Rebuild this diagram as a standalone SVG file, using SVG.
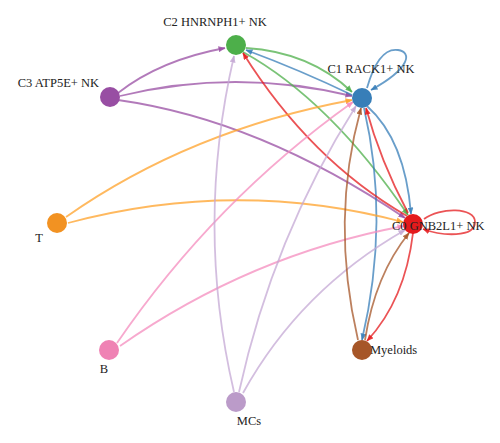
<svg xmlns="http://www.w3.org/2000/svg" width="500" height="443" viewBox="0 0 500 443">
<style>
.e{fill:none;stroke-width:1.8;stroke-opacity:0.75}
.lbl{font-family:"Liberation Serif","Times New Roman",serif;font-size:12.5px;fill:#222}
.n{stroke:none}
</style>
<defs>
<marker id="aR" markerUnits="userSpaceOnUse" markerWidth="7" markerHeight="6" refX="6.5" refY="3" orient="auto"><path d="M0,0 L7,3 L0,6 z" fill="#e41a1c" fill-opacity="0.85"/></marker>
<marker id="aB" markerUnits="userSpaceOnUse" markerWidth="7" markerHeight="6" refX="6.5" refY="3" orient="auto"><path d="M0,0 L7,3 L0,6 z" fill="#377eb8" fill-opacity="0.85"/></marker>
<marker id="aG" markerUnits="userSpaceOnUse" markerWidth="7" markerHeight="6" refX="6.5" refY="3" orient="auto"><path d="M0,0 L7,3 L0,6 z" fill="#4daf4a" fill-opacity="0.85"/></marker>
<marker id="aP" markerUnits="userSpaceOnUse" markerWidth="7" markerHeight="6" refX="6.5" refY="3" orient="auto"><path d="M0,0 L7,3 L0,6 z" fill="#984ea3" fill-opacity="0.85"/></marker>
<marker id="aO" markerUnits="userSpaceOnUse" markerWidth="7" markerHeight="6" refX="6.5" refY="3" orient="auto"><path d="M0,0 L7,3 L0,6 z" fill="#ffa12a" fill-opacity="0.85"/></marker>
<marker id="aK" markerUnits="userSpaceOnUse" markerWidth="7" markerHeight="6" refX="6.5" refY="3" orient="auto"><path d="M0,0 L7,3 L0,6 z" fill="#f48cbd" fill-opacity="0.85"/></marker>
<marker id="aL" markerUnits="userSpaceOnUse" markerWidth="7" markerHeight="6" refX="6.5" refY="3" orient="auto"><path d="M0,0 L7,3 L0,6 z" fill="#c4a8d4" fill-opacity="0.85"/></marker>
<marker id="aM" markerUnits="userSpaceOnUse" markerWidth="7" markerHeight="6" refX="6.5" refY="3" orient="auto"><path d="M0,0 L7,3 L0,6 z" fill="#a65628" fill-opacity="0.85"/></marker>
</defs>
<g id="connectors">
<!-- C3 -->
<path class="e" stroke="#984ea3" marker-end="url(#aP)" d="M118,93 Q160,60 225,48"/>
<path class="e" stroke="#984ea3" marker-end="url(#aP)" d="M120,96 Q235,68 352,96"/>
<path class="e" stroke="#984ea3" marker-end="url(#aP)" d="M118,100 Q260,120 405,218"/>
<!-- C2 -->
<path class="e" stroke="#4daf4a" marker-end="url(#aG)" d="M246,48 Q310,52 352,92"/>
<path class="e" stroke="#4daf4a" marker-end="url(#aG)" d="M243,52 Q330,100 408,215"/>
<!-- C1 -->
<path class="e" stroke="#377eb8" marker-end="url(#aB)" d="M352,95 Q300,70 246,50"/>
<path class="e" stroke="#377eb8" marker-end="url(#aB)" d="M367,88 C375,60 385,48 398,50 C412,52 411,68 371,90"/>
<path class="e" stroke="#377eb8" marker-end="url(#aB)" d="M367,106 Q405,140 411,214"/>
<path class="e" stroke="#377eb8" marker-end="url(#aB)" d="M364,108 Q390,220 362,340"/>
<!-- C0 -->
<path class="e" stroke="#e41a1c" marker-end="url(#aR)" d="M407,216 Q310,160 243,53"/>
<path class="e" stroke="#e41a1c" marker-end="url(#aR)" d="M408,213 Q380,160 366,108"/>
<path class="e" stroke="#e41a1c" marker-end="url(#aR)" d="M424,219 C440,207 475,207 475,222 C475,238 442,236 423,229"/>
<path class="e" stroke="#e41a1c" marker-end="url(#aR)" d="M413,233 Q405,300 367,341"/>
<!-- T -->
<path class="e" stroke="#ffa12a" marker-end="url(#aO)" d="M66,217 Q190,130 352,100"/>
<path class="e" stroke="#ffa12a" marker-end="url(#aO)" d="M68,223 Q236,178 403,222"/>
<!-- B -->
<path class="e" stroke="#f48cbd" marker-end="url(#aK)" d="M117,343 Q215,200 353,102"/>
<path class="e" stroke="#f48cbd" marker-end="url(#aK)" d="M120,346 Q250,255 404,226"/>
<!-- MCs -->
<path class="e" stroke="#c4a8d4" marker-end="url(#aL)" d="M234,392 Q195,225 234,56"/>
<path class="e" stroke="#c4a8d4" marker-end="url(#aL)" d="M239,392 Q273,237 356,106"/>
<path class="e" stroke="#c4a8d4" marker-end="url(#aL)" d="M243,393 Q300,290 405,230"/>
<!-- Myeloids -->
<path class="e" stroke="#a65628" marker-end="url(#aM)" d="M358,340 Q330,220 361,108"/>
<path class="e" stroke="#a65628" marker-end="url(#aM)" d="M365,340 Q375,275 409,233"/>
</g>
<g id="node-C2"><circle class="n" cx="236" cy="45" r="10" fill="#4daf4a"/><text class="lbl" x="215" y="26" text-anchor="middle">C2 HNRNPH1+ NK</text></g>
<g id="node-C1"><circle class="n" cx="362" cy="98" r="10" fill="#377eb8"/><text class="lbl" x="371" y="73" text-anchor="middle">C1 RACK1+ NK</text></g>
<g id="node-C3"><circle class="n" cx="110" cy="97" r="10" fill="#984ea3"/><text class="lbl" x="99" y="87" text-anchor="end">C3 ATP5E+ NK</text></g>
<g id="node-T"><circle class="n" cx="57" cy="223" r="10" fill="#f29222"/><text class="lbl" x="39" y="242" text-anchor="middle">T</text></g>
<g id="node-C0"><circle class="n" cx="413" cy="224" r="10" fill="#e41a1c"/><text class="lbl" x="392" y="230">C0 GNB2L1+ NK</text></g>
<g id="node-B"><circle class="n" cx="109" cy="350" r="10" fill="#ef82b4"/><text class="lbl" x="104" y="373" text-anchor="middle">B</text></g>
<g id="node-MCs"><circle class="n" cx="236" cy="402" r="10" fill="#bb9bc9"/><text class="lbl" x="249" y="425" text-anchor="middle">MCs</text></g>
<g id="node-Myeloids"><circle class="n" cx="362" cy="350" r="10" fill="#a65628"/><text class="lbl" x="370" y="354">Myeloids</text></g>
</svg>
